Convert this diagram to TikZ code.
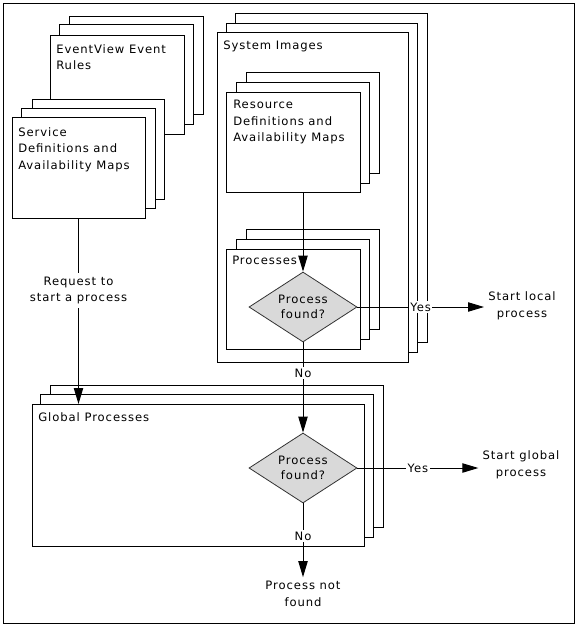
\documentclass[tikz,border=0pt]{standalone}
\usepackage{fontspec}
\setmainfont[LetterSpace=8]{DejaVu Sans}
\usetikzlibrary{shapes.geometric,arrows.meta,fit}
\begin{document}
\begin{tikzpicture}[x=0.75pt,y=-0.75pt,
  card/.style={draw, fill=white, line width=0.75pt, inner sep=0pt, outer sep=0pt},
  txt/.style={font=\fontsize{8.7}{12.4}\selectfont, align=left, anchor=north west, inner sep=0pt},
  ctxt/.style={font=\fontsize{8.7}{12.4}\selectfont, align=center, inner sep=3pt},
  lbl/.style={font=\fontsize{8.7}{12.4}\selectfont, fill=white, inner sep=1pt},
  dec/.style={diamond, draw=black!80, fill=black!15, line width=0.6pt, aspect=1.54,
    minimum width=81pt, minimum height=52.5pt, inner sep=0pt,
    font=\fontsize{8.7}{11.2}\selectfont, align=center},
  arr/.style={line width=0.75pt, -{Triangle[length=12pt,width=7pt]}}]
\useasboundingbox (0,0) rectangle (577,625);
\node[card, fit={(3,3) (574,623)}] (frame) {};

% System images stack
\node[card, fit={(235,13) (427,342)}] (sysb) {};
\node[card, fit={(226,23) (417,352)}] (sysm) {};
\node[card, fit={(217,32) (408,362)}] (sysf) {};
\node[txt] (systxt) at (223,41) {System Images};

% Resource stack
\node[card, fit={(246,72) (379,173)}] (resb) {};
\node[card, fit={(236,82) (369,183)}] (resm) {};
\node[card, fit={(226,92) (360,192)}] (resf) {};
\node[txt] (restxt) at (233,100) {Resource\\Definitions and\\Availability Maps};

% Processes stack
\node[card, fit={(246,229) (379,329)}] (prb) {};
\node[card, fit={(236,239) (369,339)}] (prm) {};
\node[card, fit={(226,249) (360,349)}] (prf) {};
\node[txt] (prtxt) at (232,256) {Processes};

\node[dec] (d1) at (303,307) {Process\\found?};

% EventView stack
\node[card, fit={(69,16) (203,114)}] (evb) {};
\node[card, fit={(59,24) (193,124)}] (evm) {};
\node[card, fit={(50,35) (184,134)}] (evf) {};
\node[txt] (evtxt) at (56,44) {EventView Event\\Rules};

% Service stack
\node[card, fit={(32,99) (164,199)}] (svb) {};
\node[card, fit={(21,108) (155,208)}] (svm) {};
\node[card, fit={(12,117) (145,218)}] (svf) {};
\node[txt] (svtxt) at (18,127) {Service\\Definitions and\\Availability Maps};

% Global stack
\node[card, fit={(50,385) (383,527)}] (glb) {};
\node[card, fit={(40,394) (373,537)}] (glm) {};
\node[card, fit={(32,404) (364,546)}] (glf) {};
\node[txt] (gltxt) at (38,412) {Global Processes};

\node[dec] (d2) at (303,468) {Process\\found?};

% Terminal texts
\node[ctxt] (sl) at (522,306) {Start local\\process};
\node[ctxt] (sg) at (521,465) {Start global\\process};
\node[ctxt] (nf) at (303,594) {Process not\\found};

% Connectors
\draw[arr] (svf.south) -- node[lbl, inner sep=3pt, align=center, pos=0.39] {Request to\\start a process} (svf.south |- glf.north);
\draw[arr] (d1.north |- resf.south) -- (d1.north);
\draw[arr] (d1.east) -- node[lbl] {Yes} (d1.east -| sl.west);
\draw[arr] (d1.south) -- node[lbl, pos=0.34] {No} (d2.north);
\draw[arr] (d2.east) -- node[lbl] {Yes} (d2.east -| sg.west);
\draw[arr] (d2.south) -- node[lbl, pos=0.44] {No} (nf.north);
\end{tikzpicture}
\end{document}
